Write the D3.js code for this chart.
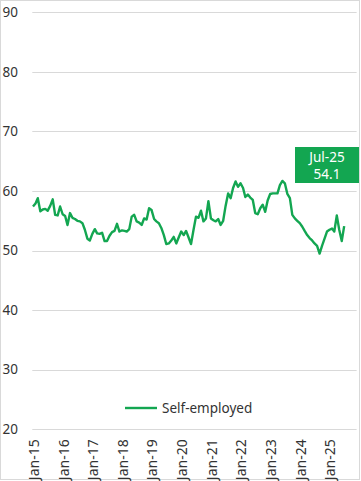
<!doctype html>
<html lang="en">
  <head>
    <meta charset="utf-8">
    <title>Self-employed</title>
    <style>
      body { margin: 0; background: #fff; }
      text { font-family: "Noto Sans", "Open Sans", sans-serif; }
    </style>
  </head>
  <body>
    <script src="https://d3js.org/d3.v7.min.js"></script>
    <script>
      // monthly values, Jan-15 .. Jul-25
      var selfEmployed = [
        57.4, 57.9, 58.8, 56.6, 56.9, 57.0, 56.7, 57.5, 58.6, 56.0, 55.9, 57.4, // 2015
        56.1, 55.8, 54.3, 56.3, 55.5, 55.3, 55.0, 54.9, 54.6, 53.5, 52.0, 51.7, // 2016
        52.8, 53.6, 52.9, 52.8, 53.0, 51.6, 51.6, 52.5, 53.1, 53.3, 54.5, 53.2, // 2017
        53.4, 53.3, 53.2, 53.6, 55.7, 56.0, 54.9, 54.7, 54.3, 55.4, 55.2, 57.1, // 2018
        56.8, 55.3, 54.9, 54.6, 53.8, 52.6, 51.1, 51.2, 51.7, 52.3, 51.2, 52.2, // 2019
        53.2, 52.6, 53.3, 52.2, 51.1, 53.5, 55.7, 55.5, 56.7, 54.9, 55.4, 58.3, // 2020
        55.4, 55.1, 54.9, 55.3, 54.3, 55.0, 57.5, 59.6, 58.8, 60.5, 61.6, 60.7, // 2021
        61.3, 60.5, 59.0, 59.4, 58.9, 58.5, 56.3, 56.1, 57.1, 57.7, 56.5, 58.4, // 2022
        59.5, 59.6, 59.6, 59.6, 61.0, 61.7, 61.3, 59.5, 58.8, 56.0, 55.4, 55.0, // 2023
        54.6, 54.0, 53.3, 52.6, 52.1, 51.7, 51.2, 50.8, 49.5, 50.8, 52.0, 53.2, // 2024
        53.5, 53.7, 53.2, 55.9, 53.5, 51.6, 54.1                                 // 2025
      ];
      var startMonth = new Date(2015, 0, 1);
      var endMonth = new Date(2025, 11, 1);
      var yTicks = [20, 30, 40, 50, 60, 70, 80, 90];
      var xTickYears = [2015, 2016, 2017, 2018, 2019, 2020, 2021, 2022, 2023, 2024, 2025];
      var seriesName = 'Self-employed';
      var lastLabel = ['Jul-25', '54.1'];

      var green = '#13a651';
      var W = 361, H = 481;
      var plotLeft = 33, plotRight = 356.6, plotTop = 12.3, plotBottom = 429.3;

      var data = selfEmployed.map(function(v, i) {
        return { date: d3.timeMonth.offset(startMonth, i), value: v };
      });

      var x = d3.scaleTime().domain([startMonth, endMonth]).range([plotLeft, plotRight]);
      var y = d3.scaleLinear().domain([20, 90]).range([plotBottom, plotTop]);

      var svg = d3.select('body').append('svg')
          .attr('width', W)
          .attr('height', H);

      // chart border
      svg.append('rect')
          .attr('x', 0.5).attr('y', 0.5)
          .attr('width', W - 2).attr('height', H - 2)
          .attr('fill', 'none')
          .attr('stroke', '#d9d9d9');

      // gridlines + y labels
      svg.append('g')
          .selectAll('line')
          .data(yTicks)
          .enter().append('line')
          .attr('x1', plotLeft - 0.7).attr('x2', plotRight)
          .attr('y1', function(d) { return Math.round(y(d)) + 0.5; })
          .attr('y2', function(d) { return Math.round(y(d)) + 0.5; })
          .attr('stroke', '#d9d9d9')
          .attr('stroke-width', 1);

      svg.append('g')
          .selectAll('text')
          .data(yTicks)
          .enter().append('text')
          .attr('x', 18)
          .attr('y', function(d) { return y(d); })
          .attr('dy', '0.35em')
          .attr('text-anchor', 'end')
          .attr('font-size', 13.5)
          .attr('fill', '#333')
          .text(function(d) { return d; });

      // x labels (rotated)
      var fmt = d3.timeFormat('%b-%y');
      svg.append('g')
          .selectAll('text')
          .data(xTickYears.map(function(yr) { return new Date(yr, 0, 1); }))
          .enter().append('text')
          .attr('transform', function(d) {
            return 'translate(' + (x(d) + 1) + ',' + (plotBottom + 10) + ') rotate(-90)';
          })
          .attr('dy', '0.35em')
          .attr('text-anchor', 'end')
          .attr('font-size', 14)
          .attr('fill', '#333')
          .text(function(d) { return fmt(d); });

      // series line
      var line = d3.line()
          .x(function(d) { return x(d.date); })
          .y(function(d) { return y(d.value); });

      svg.append('path')
          .datum(data)
          .attr('d', line)
          .attr('fill', 'none')
          .attr('stroke', green)
          .attr('stroke-width', 2.4)
          .attr('stroke-linejoin', 'round');

      // data label box for last point
      var box = svg.append('g');
      box.append('rect')
          .attr('x', 295).attr('y', 147)
          .attr('width', 64).attr('height', 36)
          .attr('fill', green);
      box.selectAll('text')
          .data(lastLabel)
          .enter().append('text')
          .attr('x', 327)
          .attr('y', function(d, i) { return 157.5 + i * 17; })
          .attr('dy', '0.35em')
          .attr('text-anchor', 'middle')
          .attr('font-size', 13.5)
          .attr('fill', '#fff')
          .text(function(d) { return d; });

      // legend
      var legend = svg.append('g');
      legend.append('line')
          .attr('x1', 125).attr('x2', 157)
          .attr('y1', 408).attr('y2', 408)
          .attr('stroke', green)
          .attr('stroke-width', 2.4);
      legend.append('text')
          .attr('x', 162).attr('y', 408)
          .attr('dy', '0.35em')
          .attr('font-size', 13.5)
          .attr('fill', '#333')
          .text(seriesName);
    </script>
  </body>
</html>
